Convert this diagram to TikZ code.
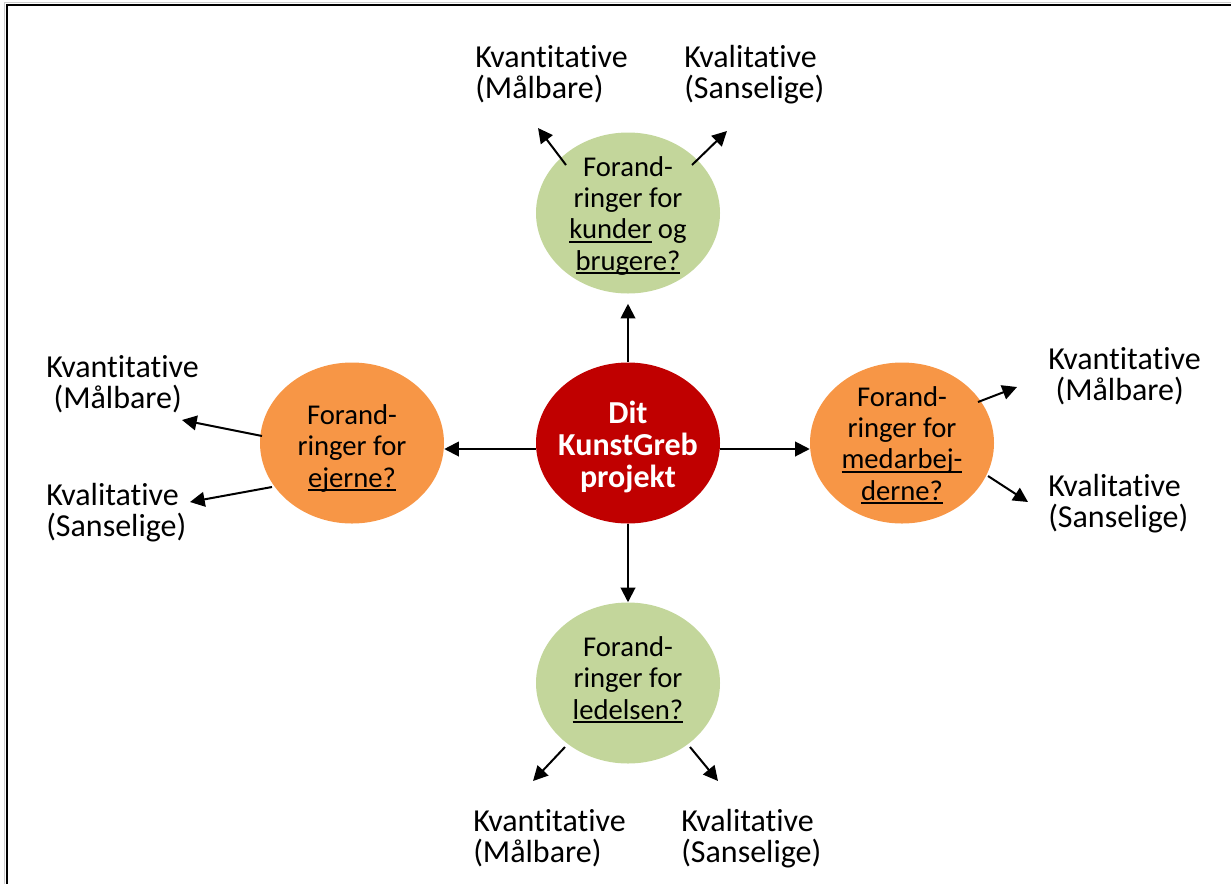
\documentclass[tikz,border=0pt]{standalone}
\usepackage{fontspec}
\setmainfont{Carlito}[Ligatures=NoCommon]
\usetikzlibrary{shapes.geometric,arrows.meta,calc}
\definecolor{lgreen}{HTML}{C3D69B}
\definecolor{orng}{HTML}{F79646}
\definecolor{dred}{HTML}{C00000}
\newsavebox\ulbox
\newcommand\myul[1]{\sbox\ulbox{#1}\rlap{\rule[-2.8pt]{\wd\ulbox}{1.1pt}}\usebox\ulbox}
\begin{document}
\begin{tikzpicture}[x=0.75pt,y=-0.75pt,
  blob/.style={ellipse,minimum width=138pt,minimum height=120.75pt,inner sep=0pt},
  gblob/.style={blob,fill=lgreen},
  oblob/.style={blob,fill=orng},
  btxt/.style={anchor=base,inner sep=0pt,align=center,font=\fontsize{21.5}{23.3}\selectfont},
  arr/.style={line width=1.5pt,-{Triangle[length=11pt,width=11pt]}},
  lbl/.style={anchor=base west,inner sep=0pt,align=left,font=\fontsize{24}{23}\selectfont}]
\useasboundingbox (0,0) rectangle (1231,883);
\draw[gray!40,line width=0.8pt] (4.5,900) -- (4.5,2.5) -- (1250,2.5);
\draw[line width=1.2pt] (7,900) -- (7,5) -- (1250,5);

\node[blob,fill=dred] (c) at (628,443) {};
\node[gblob] (tg) at (628,213) {};
\node[oblob] (ro) at (902,443) {};
\node[oblob] (lo) at (352,443) {};
\node[gblob] (bg) at (628,683) {};

\node[btxt,text=white,font=\fontsize{24}{24}\selectfont\bfseries] (ct) at (628,487) {Dit\\KunstGreb\\projekt};
\node[btxt] (tgt) at (628,270) {Forand-\\ringer for\\\myul{kunder} og\\\myul{brugere?}};
\node[btxt] (rot) at (902,500) {Forand-\\ringer for\\\myul{medarbej-}\\\myul{derne?}};
\node[btxt] (lot) at (352,487) {Forand-\\ringer for\\\myul{ejerne?}};
\node[btxt] (bgt) at (628,719) {Forand-\\ringer for\\\myul{ledelsen?}};

\node[lbl] (tgq) at (475,98) {Kvantitative\\(Målbare)};
\node[lbl] (tgk) at (684,98) {Kvalitative\\(Sanselige)};
\node[lbl] (roq) at (1048,400) {Kvantitative\\\hspace*{5.5pt}(Målbare)};
\node[lbl] (rok) at (1048,527) {Kvalitative\\(Sanselige)};
\node[lbl] (loq) at (46,408) {Kvantitative\\\hspace*{5.5pt}(Målbare)};
\node[lbl] (lok) at (46,536) {Kvalitative\\(Sanselige)};
\node[lbl] (bgq) at (473,862) {Kvantitative\\(Målbare)};
\node[lbl] (bgk) at (681,862) {Kvalitative\\(Sanselige)};

\coordinate (tgL) at (538,128);
\coordinate (tgR) at (727,131);
\coordinate (roU) at (1017,387);
\coordinate (roD) at (1028,502);
\coordinate (loU) at (182,420);
\coordinate (loD) at (190,502);
\coordinate (bgL) at (533,781);
\coordinate (bgR) at (718,781);

\draw[arr] (c.north) -- ($(tg.south)+(0,10)$);
\draw[arr] ($(c.east)+(0,6)$) -- ($(ro.west)+(0,6)$);
\draw[arr] ($(c.west)+(0,6)$) -- ($(lo.east)+(0,6)$);
\draw[arr] (c.south) -- (bg.north);

\draw[arr] ($(tg)+(-62,-48)$) -- (tgL);
\draw[arr] ($(tg)+(64,-48)$) -- (tgR);
\draw[arr] ($(ro)+(76,-41)$) -- (roU);
\draw[arr] ($(ro)+(86,33)$) -- (roD);
\draw[arr] ($(lo)+(-90,-7)$) -- (loU);
\draw[arr] ($(lo)+(-80,44)$) -- (loD);
\draw[arr] ($(bg)+(-63,64)$) -- (bgL);
\draw[arr] ($(bg)+(62,64)$) -- (bgR);
\end{tikzpicture}
\end{document}
